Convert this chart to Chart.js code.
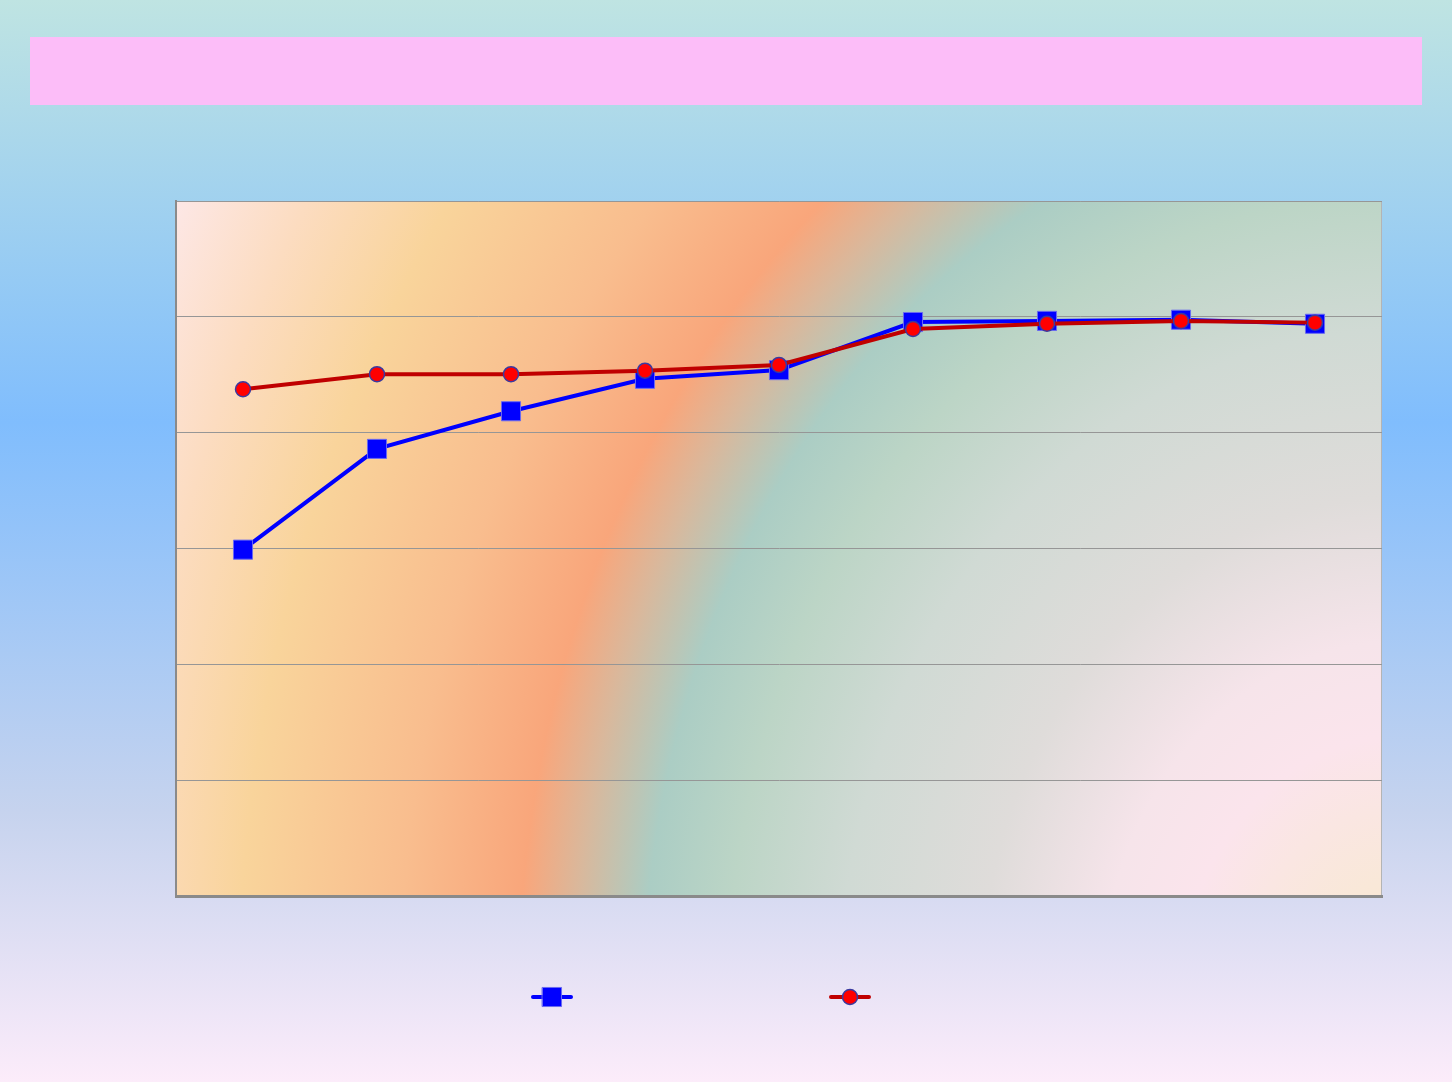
<!DOCTYPE html>
<html>
<head>
<meta charset="utf-8">
<script src="https://cdn.jsdelivr.net/npm/chart.js@4/dist/chart.umd.min.js"></script>
<style>
  html, body { margin: 0; padding: 0; }
  body {
    width: 1452px; height: 1082px; overflow: hidden;
    background: linear-gradient(to bottom, #bfe4e2 0%, #80bdfd 39%, #c6d3ee 75%, #fcecfa 100%);
  }
  #wrap { position: relative; width: 1452px; height: 1082px; }
</style>
</head>
<body>
<div id="wrap"><canvas id="lineChart" width="1452" height="1082"></canvas></div>
<script>
// categories (no visible labels in the original)
const categorias = ['', '', '', '', '', '', '', '', ''];
// series values (axis 0..120, no tick labels shown)
const serieAzul = [59.8, 77.2, 83.7, 89.3, 90.8, 99.1, 99.3, 99.5, 98.8];
const serieVermelha = [87.5, 90.1, 90.1, 90.7, 91.7, 97.9, 98.8, 99.3, 99.0];
const nomesSeries = ['', ''];
const yMin = 0, yMax = 120, yPasso = 20;

// fundo da área do gráfico + barra do título
const fundoPlugin = {
    id: 'fundo',
    beforeDraw(chart) {
        const ctx = chart.ctx;
        const a = chart.chartArea;
        ctx.save();
        ctx.fillStyle = '#fcbdf8';
        ctx.fillRect(30, 37, 1392, 68);

        // gradiente elíptico centrado perto do canto inferior direito
        ctx.save();
        ctx.beginPath();
        ctx.rect(a.left, a.top, a.right - a.left, a.bottom - a.top);
        ctx.clip();
        const s = 0.835;
        ctx.translate(1400, 1000);
        ctx.scale(1, 1 / s);
        const g = ctx.createRadialGradient(0, 0, 0, 0, 0, 1400);
        g.addColorStop(0.000, '#f9e6c8');
        g.addColorStop(0.071, '#f9e8d8');
        g.addColorStop(0.157, '#fbe4ec');
        g.addColorStop(0.214, '#f6e4ea');
        g.addColorStop(0.300, '#dfdcda');
        g.addColorStop(0.400, '#d0dad4');
        g.addColorStop(0.480, '#bcd5c6');
        g.addColorStop(0.540, '#abcdc4');
        g.addColorStop(0.590, '#d9b89c');
        g.addColorStop(0.630, '#f9a67b');
        g.addColorStop(0.714, '#f9bd8e');
        g.addColorStop(0.829, '#f9d49b');
        g.addColorStop(0.914, '#fcdcc0');
        g.addColorStop(1.000, '#fde8e8');
        ctx.fillStyle = g;
        ctx.fillRect(-1500, -1500, 3000, 3000);
        ctx.restore();

        ctx.strokeStyle = '#b4b4b4';
        ctx.lineWidth = 1;
        ctx.beginPath();
        ctx.moveTo(a.left, a.top + 0.5);
        ctx.lineTo(a.right - 0.5, a.top + 0.5);
        ctx.lineTo(a.right - 0.5, a.bottom);
        ctx.stroke();
        ctx.restore();
    }
};

// legenda só com os símbolos (sem texto)
const legendaPlugin = {
    id: 'legenda',
    afterDraw(chart) {
        const ctx = chart.ctx;
        const centros = [552, 850];
        const y = 997;
        chart.data.datasets.forEach((ds, i) => {
            const cx = centros[i];
            ctx.save();
            ctx.strokeStyle = ds.borderColor;
            ctx.lineWidth = ds.borderWidth;
            ctx.lineCap = 'round';
            ctx.beginPath();
            ctx.moveTo(cx - 19, y);
            ctx.lineTo(cx + 19, y);
            ctx.stroke();
            ctx.fillStyle = ds.pointBackgroundColor;
            ctx.strokeStyle = ds.pointBorderColor;
            ctx.lineWidth = ds.pointBorderWidth;
            Chart.helpers.drawPoint(ctx, {
                pointStyle: ds.pointStyle,
                radius: ds.pointRadius,
                rotation: 0,
                borderWidth: ds.pointBorderWidth
            }, cx, y);
            ctx.restore();
        });
    }
};

const ctx = document.getElementById('lineChart').getContext('2d');
const myChart = new Chart(ctx, {
    type: 'line',
    data: {
        labels: categorias,
        datasets: [
            {
                label: nomesSeries[0],
                data: serieAzul,
                borderColor: '#0000ff',
                borderWidth: 4,
                pointStyle: 'rect',
                pointRadius: 13.5,
                pointBackgroundColor: '#0000ff',
                pointBorderColor: '#6a6af0',
                pointBorderWidth: 1,
                tension: 0,
                order: 2
            },
            {
                label: nomesSeries[1],
                data: serieVermelha,
                borderColor: '#c00000',
                borderWidth: 4,
                pointStyle: 'circle',
                pointRadius: 7.5,
                pointBackgroundColor: '#ff0000',
                pointBorderColor: '#3a3aa0',
                pointBorderWidth: 1.5,
                tension: 0,
                order: 1
            }
        ]
    },
    options: {
        responsive: false,
        animation: false,
        layout: { padding: { left: 176, right: 70, top: 201, bottom: 186 } },
        plugins: {
            legend: { display: false },
            title: { display: false },
            tooltip: { enabled: false }
        },
        scales: {
            x: {
                offset: true,
                grid: { display: false, drawTicks: false },
                border: { display: true, color: '#8a8a8a', width: 3 },
                ticks: { display: false }
            },
            y: {
                min: yMin,
                max: yMax,
                ticks: { display: false, stepSize: yPasso },
                grid: { color: '#969696', lineWidth: 1, drawTicks: false },
                border: { display: true, color: '#8a8a8a', width: 2 }
            }
        }
    },
    plugins: [fundoPlugin, legendaPlugin]
});
</script>
</body>
</html>
